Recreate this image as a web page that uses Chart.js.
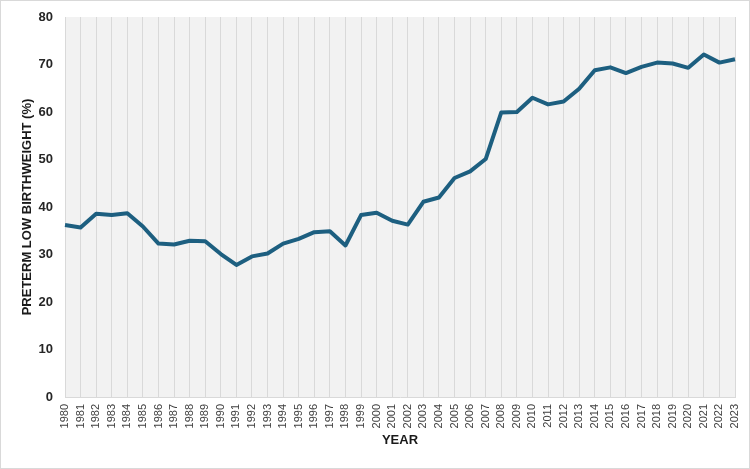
<!DOCTYPE html>
<html>
<head>
<meta charset="utf-8">
<script src="https://cdn.jsdelivr.net/npm/chart.js@4/dist/chart.umd.min.js"></script>
<style>
  html, body { margin: 0; padding: 0; background: #ffffff; }
  #wrap { position: relative; width: 750px; height: 469px; }
</style>
</head>
<body>
<div id="wrap"><canvas id="c"></canvas></div>
<script>
const years = [1980,1981,1982,1983,1984,1985,1986,1987,1988,1989,1990,1991,1992,1993,1994,1995,1996,1997,1998,1999,2000,2001,2002,2003,2004,2005,2006,2007,2008,2009,2010,2011,2012,2013,2014,2015,2016,2017,2018,2019,2020,2021,2022,2023];
const pretermLowBirthweight = [36.2,35.7,38.6,38.3,38.7,35.9,32.3,32.1,32.9,32.8,30.1,27.8,29.6,30.2,32.3,33.3,34.7,34.9,31.9,38.3,38.8,37.1,36.3,41.1,42.0,46.1,47.5,50.1,59.9,60.0,63.0,61.6,62.2,64.9,68.8,69.4,68.2,69.5,70.4,70.2,69.3,72.1,70.4,71.1];
const yTicks = [0,10,20,30,40,50,60,70,80];

const bgPlugin = {
  id: 'bg',
  beforeDraw(chart) {
    const {ctx, chartArea: a} = chart;
    ctx.save();
    ctx.fillStyle = '#f2f2f2';
    ctx.fillRect(a.left, a.top, a.right - a.left, a.bottom - a.top);
    ctx.restore();
  },
  afterDraw(chart) {
    const ctx = chart.ctx;
    ctx.save();
    ctx.strokeStyle = '#d9d9d9';
    ctx.lineWidth = 1;
    ctx.strokeRect(0.5, 0.5, chart.width - 1, chart.height - 1);
    ctx.restore();
  }
};

new Chart(document.getElementById('c'), {
  type: 'line',
  data: {
    labels: years.map(String),
    datasets: [{
      data: pretermLowBirthweight,
      borderColor: '#1d5f80',
      borderWidth: 4,
      pointRadius: 0,
      tension: 0,
      fill: false,
      borderJoinStyle: 'round'
    }]
  },
  options: {
    responsive: true,
    maintainAspectRatio: false,
    animation: false,
    layout: { padding: { top: 17, right: 15, left: 0, bottom: 0 } },
    plugins: { legend: { display: false }, tooltip: { enabled: false } },
    scales: {
      x: {
        type: 'category',
        offset: false,
        grid: { display: true, color: '#d9d9d9', lineWidth: 1, drawTicks: false },
        border: { display: true, color: '#d9d9d9' },
        ticks: {
          autoSkip: false, maxRotation: 90, minRotation: 90, padding: 7,
          color: '#404040', font: { family: 'Liberation Sans, Arial, sans-serif', size: 11 }
        },
        title: {
          display: true, text: 'YEAR', color: '#1a1a1a',
          font: { family: 'Liberation Sans, Arial, sans-serif', size: 13, weight: 'bold' },
          padding: { top: 4, bottom: 21 }
        },
        afterFit(scale) { scale.height = 72; scale.paddingLeft = 0; scale.paddingRight = 0; }
      },
      y: {
        min: 0, max: 80,
        afterBuildTicks(scale) { scale.ticks = yTicks.map(v => ({ value: v })); },
        grid: { display: false, drawTicks: false },
        border: { display: false },
        ticks: {
          padding: 12, color: '#262626',
          font: { family: 'Liberation Sans, Arial, sans-serif', size: 13, weight: 'bold' }
        },
        title: {
          display: true, text: 'PRETERM LOW BIRTHWEIGHT (%)', color: '#1a1a1a',
          font: { family: 'Liberation Sans, Arial, sans-serif', size: 13, weight: 'bold' },
          padding: { top: 20, bottom: 0 }
        },
        afterFit(scale) { scale.width = 65; scale.paddingTop = 0; scale.paddingBottom = 0; }
      }
    }
  },
  plugins: [bgPlugin]
});
</script>
</body>
</html>
